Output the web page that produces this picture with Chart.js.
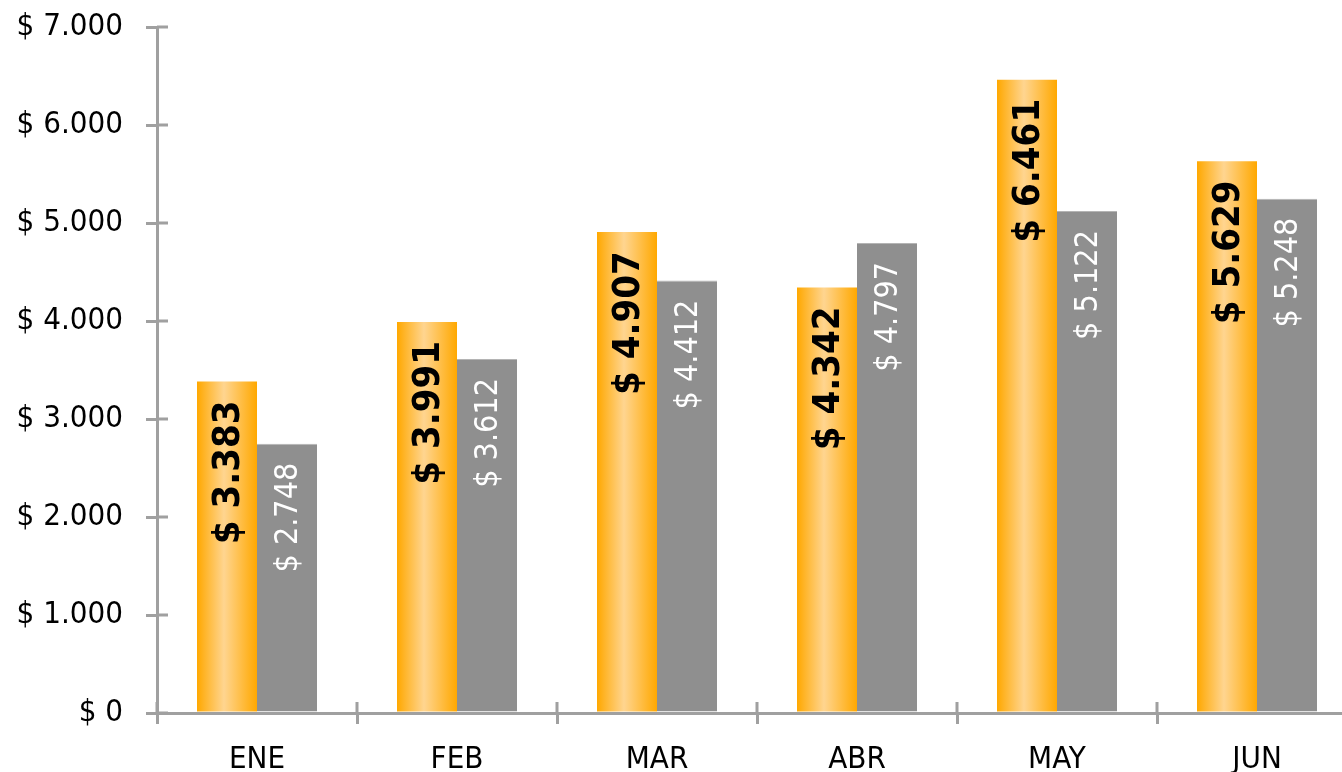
<!DOCTYPE html>
<html>
<head>
<meta charset="utf-8">
<script src="https://cdn.jsdelivr.net/npm/chart.js@4.4.1/dist/chart.umd.min.js"></script>
<style>
  html, body { margin: 0; padding: 0; background: #fff; overflow: hidden; }
  #wrap { position: absolute; left: 0; top: 0; width: 1360px; height: 772px; }
</style>
</head>
<body>
<div id="wrap"><canvas id="chart"></canvas></div>
<script>
const months = ['ENE', 'FEB', 'MAR', 'ABR', 'MAY', 'JUN'];
const actualValues = [3383, 3991, 4907, 4342, 6461, 5629];
const previousValues = [2748, 3612, 4412, 4797, 5122, 5248];
const yTickValues = [0, 1000, 2000, 3000, 4000, 5000, 6000, 7000];

const AXIS_COLOR = '#a0a0a0';
const FONT = '"DejaVu Sans Condensed", "DejaVu Sans", Verdana, sans-serif';

function money(v) {
  const s = String(Math.round(v)).replace(/\B(?=(\d{3})+(?!\d))/g, '.');
  return '$ ' + s;
}

// horizontal orange gradient per bar, built from the x scale
function orangeFill(ctx) {
  const chart = ctx.chart;
  const xs = chart.scales.x;
  if (!chart.chartArea || !xs) return '#ffa800';
  const cw = xs.width / months.length;
  const center = xs.getPixelForValue(ctx.dataIndex);
  const left = center - cw * 0.3;
  const right = center;
  const g = chart.ctx.createLinearGradient(left, 0, right, 0);
  g.addColorStop(0, '#ffa800');
  g.addColorStop(0.45, '#ffd590');
  g.addColorStop(1, '#ffa800');
  return g;
}

// value labels rotated inside the top of each bar
const barLabels = {
  id: 'barLabels',
  afterDatasetsDraw(chart) {
    const c = chart.ctx;
    chart.data.datasets.forEach((ds, di) => {
      const meta = chart.getDatasetMeta(di);
      meta.data.forEach((el, i) => {
        c.save();
        c.translate(el.x + 2, el.y + 19);
        c.rotate(-Math.PI / 2);
        c.textAlign = 'right';
        c.textBaseline = 'middle';
        c.font = di === 0 ? 'bold 38px ' + FONT : '32px ' + FONT;
        c.fillStyle = di === 0 ? '#000' : '#fff';
        c.fillText(money(ds.data[i]), 0, 0);
        c.restore();
      });
    });
  }
};

// the inner half of the tick marks (they cross the axis lines)
const innerTicks = {
  id: 'innerTicks',
  afterDraw(chart) {
    const c = chart.ctx;
    const xs = chart.scales.x, ys = chart.scales.y;
    c.save();
    c.strokeStyle = AXIS_COLOR;
    c.lineWidth = 3;
    c.beginPath();
    ys.ticks.forEach((t, i) => {
      const y = ys.getPixelForTick(i);
      c.moveTo(ys.right, y);
      c.lineTo(ys.right + 11, y);
    });
    const cw = xs.width / months.length;
    for (let i = 0; i <= months.length; i++) {
      const x = xs.left + i * cw;
      c.moveTo(x, xs.top);
      c.lineTo(x, xs.top - 11);
    }
    c.stroke();
    c.restore();
  }
};

new Chart(document.getElementById('chart'), {
  type: 'bar',
  data: {
    labels: months,
    datasets: [
      {
        data: actualValues,
        backgroundColor: orangeFill,
        borderWidth: 0,
        categoryPercentage: 0.6,
        barPercentage: 1
      },
      {
        data: previousValues,
        backgroundColor: '#8f8f8f',
        borderColor: '#b4b4b4',
        borderWidth: { top: 1, left: 0, right: 0, bottom: 0 },
        borderSkipped: 'bottom',
        categoryPercentage: 0.6,
        barPercentage: 1
      }
    ]
  },
  options: {
    responsive: true,
    maintainAspectRatio: false,
    animation: false,
    layout: { padding: { top: 27, right: 3, left: 0, bottom: 0 } },
    plugins: { legend: { display: false }, tooltip: { enabled: false } },
    scales: {
      x: {
        offset: true,
        grid: { offset: true, drawOnChartArea: false, drawTicks: true, tickLength: 11, color: AXIS_COLOR, lineWidth: 3 },
        border: { display: true, color: AXIS_COLOR, width: 3 },
        ticks: { color: '#000', font: { family: FONT, size: 31 }, padding: 17 },
        afterFit(scale) { scale.height = 59; }
      },
      y: {
        min: 0,
        max: 7000,
        afterBuildTicks(scale) { scale.ticks = yTickValues.map(v => ({ value: v })); },
        grid: { drawOnChartArea: false, drawTicks: true, tickLength: 11, color: AXIS_COLOR, lineWidth: 3 },
        border: { display: true, color: AXIS_COLOR, width: 3 },
        ticks: {
          color: '#000',
          font: { family: FONT, size: 31 },
          padding: 23,
          callback: v => money(v)
        },
        afterFit(scale) {
          scale.width = 157;
          scale.paddingTop = 0;
          scale.paddingBottom = 0;
        }
      }
    }
  },
  plugins: [barLabels, innerTicks]
});
</script>
</body>
</html>
